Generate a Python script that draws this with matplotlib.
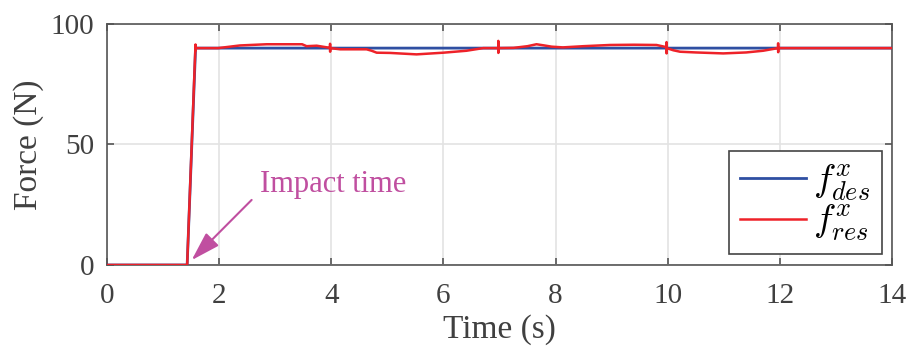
import matplotlib
matplotlib.use("Agg")
import matplotlib.pyplot as plt

# ---- data ----
t_des = [0, 1.43, 1.58, 14]
f_des = [0, 0, 90, 90]

t_res = [0, 1.43, 1.579, 1.58, 1.581, 1.98, 2.37, 2.85, 3.48, 3.56, 3.74,
         3.978, 3.979, 3.98, 3.981, 4.16, 4.63, 4.72, 4.81, 5.05, 5.52, 6.0, 6.41, 6.71,
         6.978, 6.979, 6.98, 6.981, 7.25, 7.5, 7.66, 7.8, 7.93, 8.13, 8.5, 8.97, 9.4, 9.8,
         9.978, 9.979, 9.98, 9.981, 10.1, 10.22, 10.5, 10.99, 11.4, 11.7,
         11.968, 11.969, 11.97, 11.971, 13.0, 14.0]
f_res = [0, 0, 91.5, 89, 90, 90, 91.1, 91.6, 91.6, 90.8, 91,
         90.1, 91.8, 88.5, 90, 89.5, 89.5, 88.9, 88.1, 88, 87.4, 88.1, 88.9, 90,
         90, 93.0, 88.0, 90, 90.1, 90.8, 91.6, 91.1, 90.6, 90.3, 90.8, 91.3, 91.4, 91.3,
         90.4, 92.5, 87.8, 90, 89.1, 88.5, 88.2, 87.8, 88.2, 88.9,
         90, 92.0, 88.3, 90, 90, 90]

x_ticks = [0, 2, 4, 6, 8, 10, 12, 14]
y_ticks = [0, 50, 100]

plt.rcParams['font.family'] = ['Liberation Serif', 'DejaVu Serif']
plt.rcParams['mathtext.fontset'] = 'cm'

txt = '#404040'
mag = '#c04fa0'
fig = plt.figure(figsize=(9.08, 3.5), dpi=100)
ax = fig.add_axes([0.1178, 0.2429, 0.8646, 0.6885])

ax.plot(t_des, f_des, color='#2f4fa2', lw=2.0, label=r'$f^{x}_{des}$', zorder=3)
ax.plot(t_res, f_res, color='#ee2229', lw=1.8, label=r'$f^{x}_{res}$', zorder=4)

ax.set_xlim(0, 14)
ax.set_ylim(0, 100)
ax.set_xticks(x_ticks)
ax.set_yticks(y_ticks)
ax.grid(True, color='#e3e3e3', lw=1.2)
ax.set_axisbelow(True)
ax.tick_params(direction='in', top=True, right=True, length=5, width=1.2,
               colors='#555555', labelsize=21, labelcolor=txt)
ax.tick_params(axis='x', pad=13)
ax.tick_params(axis='y', pad=9)
for s in ax.spines.values():
    s.set_color('#555555')
    s.set_linewidth(1.2)

ax.set_xlabel('Time (s)', fontsize=24, color=txt, labelpad=4)
ax.set_ylabel('Force (N)', fontsize=24, color=txt, labelpad=5)

ax.text(2.73, 27.5, 'Impact time', color=mag, fontsize=22, va='bottom', ha='left')
ax.annotate('', xy=(1.51, 2.0), xytext=(2.58, 27),
            arrowprops=dict(arrowstyle='-|>,head_length=1.8,head_width=0.55',
                            color=mag, lw=1.5, shrinkA=0, shrinkB=0))

leg = ax.legend(loc='lower right', fontsize=27, frameon=True, fancybox=False,
                edgecolor='#444444', framealpha=1, handlelength=1.75,
                borderaxespad=0.28, labelspacing=0.0, borderpad=0.3,
                handletextpad=0.2)
leg.get_frame().set_linewidth(1.2)

fig.savefig('out.png', dpi=100)
